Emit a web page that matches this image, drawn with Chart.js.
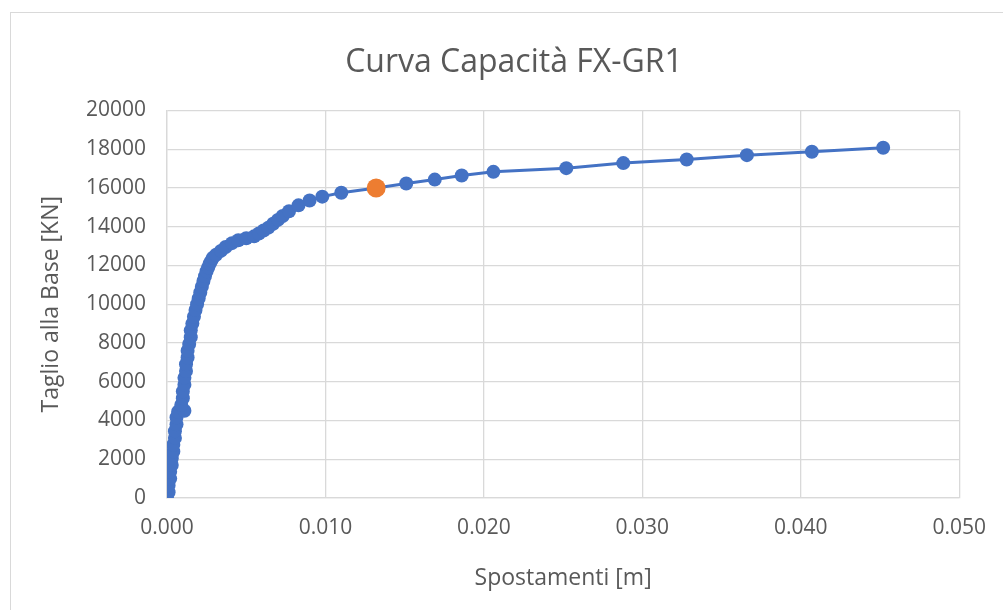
<!DOCTYPE html>
<html>
<head>
<meta charset="utf-8">
<script src="https://cdn.jsdelivr.net/npm/chart.js@4.4.0/dist/chart.umd.min.js"></script>
<style>
    html, body { margin: 0; padding: 0; background: #fff; }
    #frame {
        position: absolute; left: 10px; top: 12px;
        width: 1010px; height: 620px;
        border: 1px solid #d9d9d9; box-sizing: border-box;
    }
    #wrap { position: absolute; left: 0; top: 0; width: 1003px; height: 610px; }
</style>
</head>
<body>
<div id="frame"></div>
<div id="wrap"><canvas id="chart-capacity" width="1003" height="610"></canvas></div>
<script>
// displacement [m] and base shear [kN]
const spostamenti = [
    0.0000, 0.0001, 0.0001, 0.0002, 0.0002, 0.0003, 0.0003, 0.0004, 0.0004, 0.0005,
    0.0005, 0.0006, 0.0006, 0.0007, 0.0011, 0.0009, 0.0010, 0.0010, 0.0011, 0.0011,
    0.0012, 0.0012, 0.0013, 0.0013, 0.0014, 0.0015, 0.0015, 0.0016, 0.0017, 0.0018,
    0.0019, 0.0020, 0.0021, 0.0022, 0.0023, 0.0024, 0.0025, 0.0026, 0.0027, 0.0028,
    0.0029, 0.0031, 0.0034, 0.0037, 0.0041, 0.0045, 0.0050, 0.0055, 0.0058, 0.0061,
    0.0064, 0.0067, 0.0070, 0.0073, 0.0077, 0.0083, 0.0090, 0.0098, 0.0110, 0.0132,
    0.0151, 0.0169, 0.0186, 0.0206, 0.0252, 0.0288, 0.0328, 0.0366, 0.0407, 0.0452
];
const taglio = [
    0, 300, 650, 1000, 1350, 1700, 2050, 2400, 2750, 3100,
    3450, 3800, 4150, 4450, 4500, 4800, 5150, 5500, 5850, 6200,
    6550, 6900, 7250, 7600, 7950, 8300, 8650, 9000, 9350, 9700,
    10000, 10300, 10600, 10900, 11200, 11450, 11700, 11900, 12100, 12250,
    12400, 12550, 12750, 12950, 13150, 13300, 13400, 13500, 13650, 13800,
    13950, 14150, 14350, 14550, 14800, 15100, 15350, 15550, 15750, 16000,
    16230, 16430, 16640, 16830, 17020, 17280, 17470, 17690, 17870, 18070
];
// highlighted point (orange)
const puntoX = [0.0132];
const puntoY = [16000];

const xTicks = [0, 0.01, 0.02, 0.03, 0.04, 0.05];
const yTicks = [0, 2000, 4000, 6000, 8000, 10000, 12000, 14000, 16000, 18000, 20000];

document.addEventListener("DOMContentLoaded", () => {
    Chart.defaults.font.family = "'Open Sans', sans-serif";
    Chart.defaults.color = '#595959';

    const curve = spostamenti.map((x, i) => ({ x: x, y: taglio[i] }));
    const marker = puntoX.map((x, i) => ({ x: x, y: puntoY[i] }));

    const ctx = document.getElementById("chart-capacity").getContext('2d');
    new Chart(ctx, {
        type: 'scatter',
        data: {
            datasets: [{
                label: 'punto',
                data: marker,
                showLine: false,
                pointRadius: 9.5,
                pointBackgroundColor: '#ED7D31',
                pointBorderColor: '#ED7D31',
                pointBorderWidth: 0,
                order: 0
            }, {
                label: 'Curva',
                data: curve,
                showLine: true,
                borderColor: '#4472C4',
                borderWidth: 3,
                pointRadius: 7,
                pointBackgroundColor: '#4472C4',
                pointBorderColor: '#4472C4',
                pointBorderWidth: 0,
                order: 1
            }]
        },
        options: {
            responsive: false,
            animation: false,
            // left padding shifts the title centre to match the frame
            layout: { padding: { left: 25, right: 0, top: 0, bottom: 0 } },
            plugins: {
                legend: { display: false },
                tooltip: { enabled: false },
                title: {
                    display: true,
                    text: 'Curva Capacità FX-GR1',
                    color: '#595959',
                    font: { size: 32, weight: 'normal' },
                    padding: { top: 44, bottom: 28 }
                }
            },
            scales: {
                x: {
                    type: 'linear',
                    min: 0, max: 0.05,
                    afterBuildTicks: (s) => { s.ticks = xTicks.map(v => ({ value: v })); },
                    afterFit: (s) => { s.height = 112; },
                    ticks: {
                        padding: 17,
                        font: { size: 21 },
                        callback: (v) => v.toFixed(3)
                    },
                    grid: { color: '#d9d9d9', lineWidth: 1.3, drawTicks: false },
                    border: { color: '#d9d9d9', width: 1.3 },
                    title: {
                        display: true,
                        text: 'Spostamenti [m]',
                        font: { size: 23 },
                        padding: { top: 0, bottom: 18 }
                    }
                },
                y: {
                    type: 'linear',
                    min: 0, max: 20000,
                    afterBuildTicks: (s) => { s.ticks = yTicks.map(v => ({ value: v })); },
                    afterFit: (s) => { s.width = 142; },
                    ticks: {
                        padding: 21,
                        font: { size: 21 },
                        callback: (v) => String(v)
                    },
                    grid: { color: '#d9d9d9', lineWidth: 1.3, drawTicks: false },
                    border: { color: '#d9d9d9', width: 1.3 },
                    title: {
                        display: true,
                        text: 'Taglio alla Base [KN]',
                        font: { size: 23 },
                        padding: { top: 13, bottom: 0 }
                    }
                },
                // empty spacer on the right side of the plot
                yRight: {
                    type: 'linear',
                    position: 'right',
                    min: 0, max: 1,
                    afterFit: (s) => { s.width = 43; },
                    ticks: { display: false },
                    grid: { display: false, drawTicks: false },
                    border: { display: false }
                }
            }
        }
    });
});
</script>
</body>
</html>
